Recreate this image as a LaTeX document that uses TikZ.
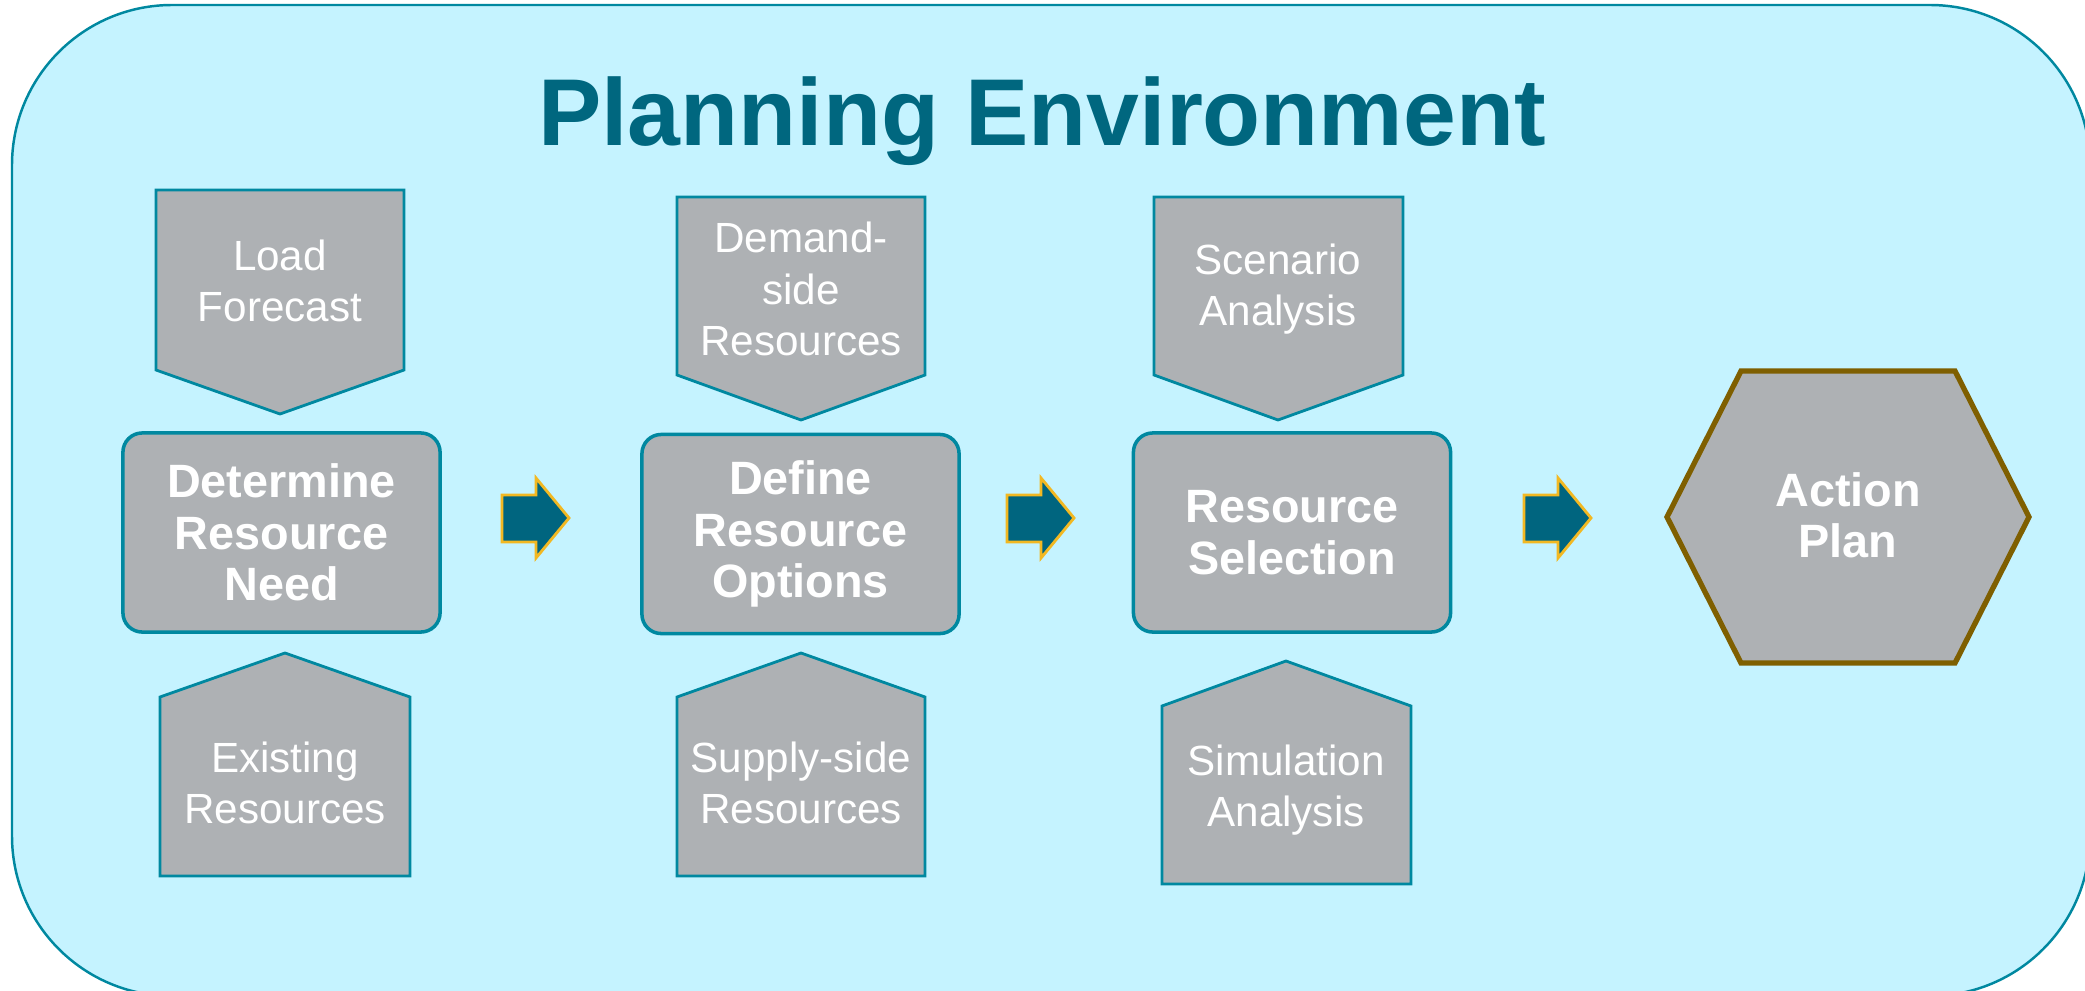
\documentclass[tikz,border=0pt]{standalone}
\usepackage{fontspec}
\setmainfont{Liberation Sans}

\definecolor{envfill}{HTML}{C5F3FF}
\definecolor{envline}{HTML}{0088A0}
\definecolor{boxgray}{HTML}{AEB1B4}
\definecolor{titleblue}{HTML}{00677F}
\definecolor{arrowblue}{HTML}{00657F}
\definecolor{arrowgold}{HTML}{F2B822}
\definecolor{hexbrown}{HTML}{7F5F00}

\tikzset{
  stepbox/.style={draw=envline, line width=1pt, fill=boxgray, rounded corners=5.5pt, minimum width=3.17cm, minimum height=1.99cm, inner sep=0pt},
  inputshape/.style={draw=envline, line width=0.8pt, fill=boxgray},
  smalltext/.style={text=white, align=center, font=\fontsize{12}{14.6}\selectfont},
  boldtext/.style={text=white, align=center, font=\fontsize{13.3}{14.6}\selectfont\bfseries},
  blockarrow/.style={fill=arrowblue, draw=arrowgold, line width=0.8pt, line join=miter},
}

\begin{document}
\begin{tikzpicture}[x=0.01cm, y=-0.01cm]
    \useasboundingbox (0,0) rectangle (2085,991);
    \fill[white] (0,0) rectangle (2085,991);
    \draw[envline, fill=envfill, line width=0.7pt, rounded corners=1.6cm] (12,5) rectangle (2090,996);

    \node[text=titleblue, anchor=base, font=\fontsize{27}{30}\selectfont\bfseries] (title) at (1042,146) {Planning Environment};

    % inputs above the steps
    \draw[inputshape] (156,190) -- (404,190) -- (404,370) -- (280,414) -- (156,370) -- cycle;
    \draw[inputshape] (677,197) -- (925,197) -- (925,375) -- (801,420) -- (677,375) -- cycle;
    \draw[inputshape] (1154,197) -- (1403,197) -- (1403,375) -- (1278,420) -- (1154,375) -- cycle;
    \node[smalltext] (load) at (280,281) {Load\\Forecast};
    \node[smalltext] (demand) at (801,289) {Demand-\\side\\Resources};
    \node[smalltext] (scenario) at (1278,289) {Scenario\\Analysis};

    % inputs below the steps
    \draw[inputshape] (160,697) -- (285,653) -- (410,697) -- (410,876) -- (160,876) -- cycle;
    \draw[inputshape] (677,697) -- (801,653) -- (925,697) -- (925,876) -- (677,876) -- cycle;
    \draw[inputshape] (1162,706) -- (1286,661) -- (1411,706) -- (1411,884) -- (1162,884) -- cycle;
    \node[smalltext] (existing) at (285,783) {Existing\\Resources};
    \node[smalltext] (supply) at (801,783) {Supply-side\\Resources};
    \node[smalltext] (simulation) at (1286,790) {Simulation\\Analysis};

    % steps
    \node[stepbox, boldtext] (need) at (281.5,532.5) {Determine\\Resource\\Need};
    \node[stepbox, boldtext] (options) at (800.5,534) {Define\\Resource\\Options};
    \node[stepbox, boldtext] (selection) at (1292,532.5) {Resource\\Selection};

    \draw[draw=hexbrown, line width=1.5pt, fill=boxgray] (1667,517) -- (1741,371) -- (1955,371) -- (2029,517) -- (1955,663) -- (1741,663) -- cycle;
    \node[boldtext] (plan) at (1848,515) {Action\\Plan};

    % block arrows
    \foreach \ax in {502,1007,1524}
      \draw[blockarrow] (\ax,495) -- ++(34,0) -- ++(0,-17) -- ++(33,40) -- ++(-33,40) -- ++(0,-16) -- ++(-34,0) -- cycle;
\end{tikzpicture}
\end{document}
